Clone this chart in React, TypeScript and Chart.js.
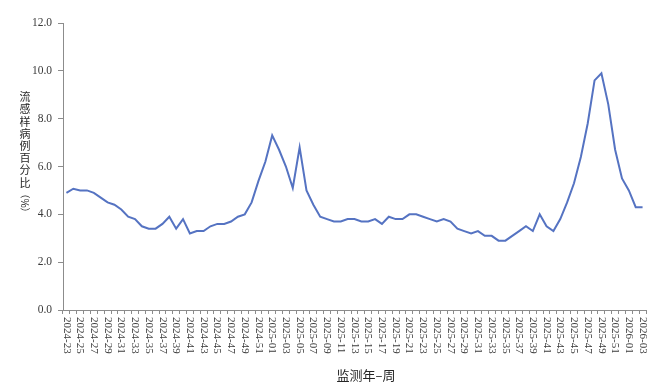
import React, { useEffect, useRef } from "react";
import { Chart, registerables } from "chart.js";

Chart.register(...registerables);

const weeks: string[] = [
  "2024-23", "2024-24", "2024-25", "2024-26", "2024-27", "2024-28", "2024-29", "2024-30", "2024-31", "2024-32",
  "2024-33", "2024-34", "2024-35", "2024-36", "2024-37", "2024-38", "2024-39", "2024-40", "2024-41", "2024-42",
  "2024-43", "2024-44", "2024-45", "2024-46", "2024-47", "2024-48", "2024-49", "2024-50", "2024-51", "2024-52",
  "2025-01", "2025-02", "2025-03", "2025-04", "2025-05", "2025-06", "2025-07", "2025-08", "2025-09", "2025-10",
  "2025-11", "2025-12", "2025-13", "2025-14", "2025-15", "2025-16", "2025-17", "2025-18", "2025-19", "2025-20",
  "2025-21", "2025-22", "2025-23", "2025-24", "2025-25", "2025-26", "2025-27", "2025-28", "2025-29", "2025-30",
  "2025-31", "2025-32", "2025-33", "2025-34", "2025-35", "2025-36", "2025-37", "2025-38", "2025-39", "2025-40",
  "2025-41", "2025-42", "2025-43", "2025-44", "2025-45", "2025-46", "2025-47", "2025-48", "2025-49", "2025-50",
  "2025-51", "2025-52", "2026-01", "2026-02", "2026-03",
];

const iliPercent: number[] = [
  4.9, 5.07, 5.0, 5.0, 4.9, 4.7, 4.5, 4.4, 4.2, 3.9,
  3.8, 3.5, 3.4, 3.4, 3.6, 3.9, 3.4, 3.8, 3.2, 3.3,
  3.3, 3.5, 3.6, 3.6, 3.7, 3.9, 4.0, 4.5, 5.4, 6.2,
  7.3, 6.7, 6.0, 5.1, 6.8, 5.0, 4.4, 3.9, 3.8, 3.7,
  3.7, 3.8, 3.8, 3.7, 3.7, 3.8, 3.6, 3.9, 3.8, 3.8,
  4.0, 4.0, 3.9, 3.8, 3.7, 3.8, 3.7, 3.4, 3.3, 3.2,
  3.3, 3.1, 3.1, 2.9, 2.9, 3.1, 3.3, 3.5, 3.3, 4.0,
  3.5, 3.3, 3.8, 4.5, 5.3, 6.4, 7.8, 9.6, 9.9, 8.6,
  6.7, 5.5, 5.0, 4.3, 4.3,
];

const yTitleChars: string[] = ["流", "感", "样", "病", "例", "百", "分", "比"];
const yTitleUnit = "（%）";
const xTitle = "监测年–周";

const SERIF = "'Liberation Serif', 'Times New Roman', 'Noto Sans CJK SC', serif";
const CJK = "'Noto Sans CJK SC', 'Liberation Serif', serif";
const TEXT = "#3a3a3a";
const AXIS = "#8c8c8c";

const labelPlugin = {
  id: "customLabels",
  afterDraw(chart: any) {
    const ctx = chart.ctx as CanvasRenderingContext2D;
    const xs = chart.scales.x;
    const area = chart.chartArea;
    ctx.save();
    ctx.font = `11px ${SERIF}`;
    ctx.fillStyle = TEXT;
    ctx.textAlign = "left";
    ctx.textBaseline = "middle";
    weeks.forEach((w, i) => {
      if (i % 2 !== 0) return;
      const x = xs.getPixelForValue(i);
      ctx.save();
      ctx.translate(x, area.bottom + 7);
      ctx.rotate(Math.PI / 2);
      ctx.fillText(w, 0, 0);
      ctx.restore();
    });
    ctx.font = `13px ${CJK}`;
    ctx.fillStyle = "#262626";
    ctx.textAlign = "center";
    ctx.textBaseline = "middle";
    ctx.fillText(xTitle, 366, 375);
    ctx.font = `11px ${CJK}`;
    yTitleChars.forEach((c, i) => {
      ctx.fillText(c, 25, 97 + i * 12.2);
    });
    ctx.save();
    ctx.translate(25, 203);
    ctx.rotate(Math.PI / 2);
    ctx.font = `10px ${CJK}`;
    ctx.fillText(yTitleUnit, 0, 0);
    ctx.restore();
    ctx.restore();
  },
};

export default function App() {
  const ref = useRef<HTMLCanvasElement | null>(null);
  useEffect(() => {
    if (!ref.current) return;
    const chart = new Chart(ref.current, {
      type: "line",
      data: {
        labels: weeks,
        datasets: [
          {
            data: iliPercent,
            borderColor: "#5573c2",
            backgroundColor: "#5573c2",
            borderWidth: 2,
            pointRadius: 0,
            tension: 0,
            fill: false,
          },
        ],
      },
      options: {
        animation: false,
        responsive: false,
        maintainAspectRatio: false,
        layout: { padding: { top: 23, right: 7, left: 0, bottom: 0 } },
        plugins: { legend: { display: false }, tooltip: { enabled: false } },
        scales: {
          x: {
            type: "category",
            offset: true,
            grid: {
              offset: true,
              drawOnChartArea: false,
              drawTicks: true,
              tickLength: 4,
              color: AXIS,
            },
            border: { color: AXIS, width: 1 },
            ticks: { display: false },
            afterFit(scale: any) {
              scale.height = 80;
            },
          },
          y: {
            min: 0,
            max: 12,
            grid: {
              drawOnChartArea: false,
              drawTicks: true,
              tickLength: 5,
              color: AXIS,
            },
            border: { color: AXIS, width: 1 },
            ticks: {
              stepSize: 2,
              padding: 6,
              color: TEXT,
              font: { family: SERIF, size: 11.5 },
              callback: (v: any) => Number(v).toFixed(1),
            },
            afterFit(scale: any) {
              scale.width = 63;
            },
          },
        },
      },
      plugins: [labelPlugin],
    });
    return () => chart.destroy();
  }, []);
  return (
    <div style={{ position: "absolute", left: 0, top: 0, width: 653, height: 390, background: "#fff" }}>
      <canvas ref={ref} width={653} height={390} style={{ width: 653, height: 390, display: "block" }} />
    </div>
  );
}
